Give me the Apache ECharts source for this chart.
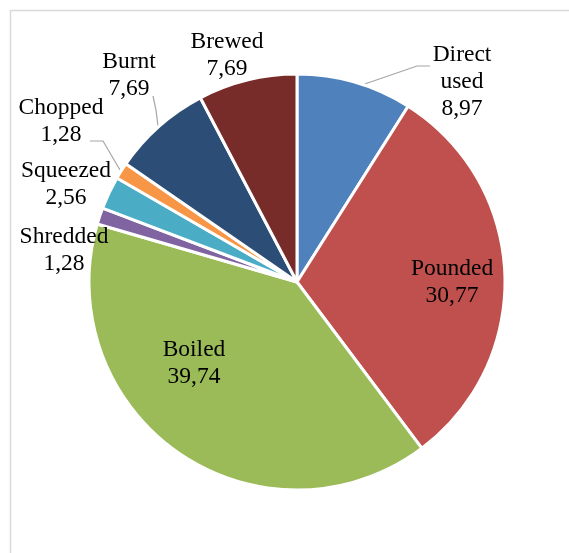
<!DOCTYPE html>
<html>
<head>
<meta charset="utf-8">
<script src="https://cdn.jsdelivr.net/npm/echarts@6/dist/echarts.min.js"></script>
<style>html,body{margin:0;padding:0;background:#fff;}#c{width:569px;height:553px;}</style>
</head>
<body>
<div id="c"></div>
<script>
const categories = ['Direct used', 'Pounded', 'Boiled', 'Shredded', 'Squeezed', 'Chopped', 'Burnt', 'Brewed'];
const values = [8.97, 30.77, 39.74, 1.28, 2.56, 1.28, 7.69, 7.69];
const colors = ['#4F81BD', '#C0504D', '#9BBB59', '#8064A2', '#4BACC6', '#F79646', '#2C4D75', '#772C2A'];

// label anchor positions (centers) and leader lines, keyed by category
const labelPos = {
  'Direct used': {x: 462, y: 82, line: [[356, 87], [417, 66], [430, 66]]},
  'Pounded': {x: 452, y: 282},
  'Boiled': {x: 194, y: 363},
  'Shredded': {x: 64, y: 250},
  'Squeezed': {x: 66, y: 184},
  'Chopped': {x: 61, y: 121, line: [[120, 170], [103, 141], [90, 141]]},
  'Burnt': {x: 129, y: 75, line: [[158, 126], [156, 110], [153, 96]]},
  'Brewed': {x: 227, y: 55}
};

const data = categories.map((n, i) => ({
  name: n,
  value: values[i],
  itemStyle: {color: colors[i]},
  labelLine: {show: !!labelPos[n].line}
}));

const chart = echarts.init(document.getElementById('c'), null, {renderer: 'canvas'});
chart.setOption({
  animation: false,
  backgroundColor: '#fff',
  graphic: [{
    type: 'rect',
    shape: {x: 10.5, y: 10.5, width: 700, height: 700},
    style: {fill: 'none', stroke: '#d9d9d9', lineWidth: 1.5},
    silent: true
  }],
  series: [{
    type: 'pie',
    center: [297, 282],
    radius: [0, 208],
    startAngle: 90,
    clockwise: true,
    avoidLabelOverlap: false,
    itemStyle: {borderColor: '#fff', borderWidth: 3},
    label: {
      show: true,
      position: 'outside',
      fontFamily: '"Liberation Serif", "Times New Roman", serif',
      fontSize: 23.5,
      lineHeight: 27,
      color: '#000',
      align: 'center',
      formatter: p => p.name.split(' ').join('\n') + '\n' + p.value.toFixed(2).replace('.', ',')
    },
    labelLine: {lineStyle: {color: '#a6a6a6', width: 1.2}, length: 10, length2: 10},
    labelLayout: params => {
      const n = categories[params.dataIndex];
      const p = labelPos[n];
      const r = {x: p.x, y: p.y, align: 'center', verticalAlign: 'middle'};
      if (p.line) r.labelLinePoints = p.line;
      return r;
    },
    emphasis: {disabled: true},
    data: data
  }]
});
</script>
</body>
</html>
